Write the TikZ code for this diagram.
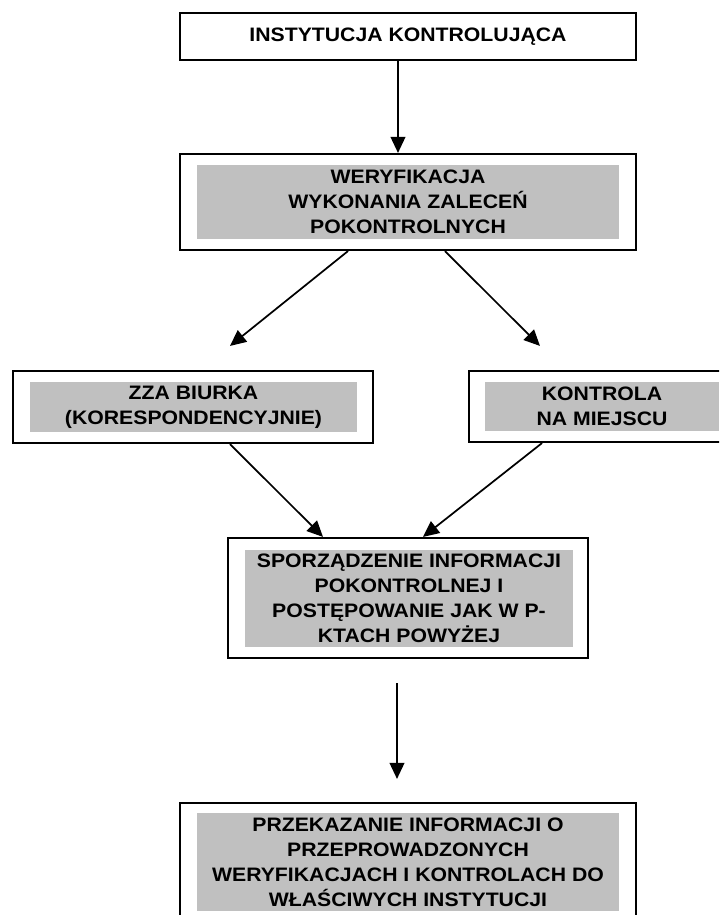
\documentclass[tikz,border=0pt]{standalone}
\usepackage{fontspec}
\setmainfont{Liberation Sans}[FakeStretch=1.09]
\usetikzlibrary{arrows.meta,calc}
\definecolor{boxgray}{HTML}{C0C0C0}
\begin{document}
\begin{tikzpicture}[x=0.75pt,y=-0.75pt,
  txt/.style={align=center, font=\fontsize{14.6pt}{18.75pt}\selectfont\bfseries},
  outer/.style={draw, line width=1.6pt, rectangle, inner sep=0pt},
  inner/.style={txt, fill=boxgray, rectangle, inner sep=0pt},
  arr/.style={line width=1.3pt, -{Triangle[length=12pt,width=11pt]}}]
\useasboundingbox (0,0) rectangle (719,915);
\clip (0,0) rectangle (719,915);

% box 1
\node[outer, txt, minimum width=342pt, minimum height=35.25pt] (b1) at (408,36.5) {INSTYTUCJA KONTROLUJĄCA};

% box 2
\node[outer, minimum width=342pt, minimum height=72pt] (b2) at (408,202) {};
\node[inner, minimum width=316.5pt, minimum height=55.5pt] (g2) at (408,202) {WERYFIKACJA\\WYKONANIA ZALECEŃ\\POKONTROLNYCH};

% box 3
\node[outer, minimum width=270pt, minimum height=54pt] (b3) at (193,407) {};
\node[inner, minimum width=245.25pt, minimum height=37.5pt] (g3) at (193.5,407) {ZZA BIURKA\\(KORESPONDENCYJNIE)};

% box 4
\node[outer, minimum width=199.5pt, minimum height=53.25pt] (b4) at (602,406.5) {};
\node[inner, minimum width=175.5pt, minimum height=36.75pt] (g4) at (602,406.5) {KONTROLA\\NA MIEJSCU};

% box 5
\node[outer, minimum width=270pt, minimum height=90pt] (b5) at (408,598) {};
\node[inner, minimum width=246pt, minimum height=72.75pt] (g5) at (409,598.5) {SPORZĄDZENIE INFORMACJI\\POKONTROLNEJ I\\POSTĘPOWANIE JAK W P-\\KTACH POWYŻEJ};

% box 6
\node[outer, minimum width=342pt, minimum height=90pt] (b6) at (408,863) {};
\node[inner, minimum width=316.5pt, minimum height=73.5pt] (g6) at (408,862) {PRZEKAZANIE INFORMACJI O\\PRZEPROWADZONYCH\\WERYFIKACJACH I KONTROLACH DO\\WŁAŚCIWYCH INSTYTUCJI};

% connectors
\draw[arr] ($(b1.south)+(-10,0)$) -- ($(b2.north)+(-10,0)$);
\draw[arr] ($(b2.south)+(-60,0)$) -- ($(b3.north)+(37,-24)$);
\draw[arr] ($(b2.south)+(37,0)$) -- ($(b4.north)+(-62,-24)$);
\draw[arr] ($(b3.south)+(37,0)$) -- ($(b5.north)+(-85,0)$);
\draw[arr] ($(b4.south)+(-60,0)$) -- ($(b5.north)+(15,0)$);
\draw[arr] ($(b5.south)+(-11,24)$) -- ($(b6.north)+(-11,-23)$);
\end{tikzpicture}
\end{document}
